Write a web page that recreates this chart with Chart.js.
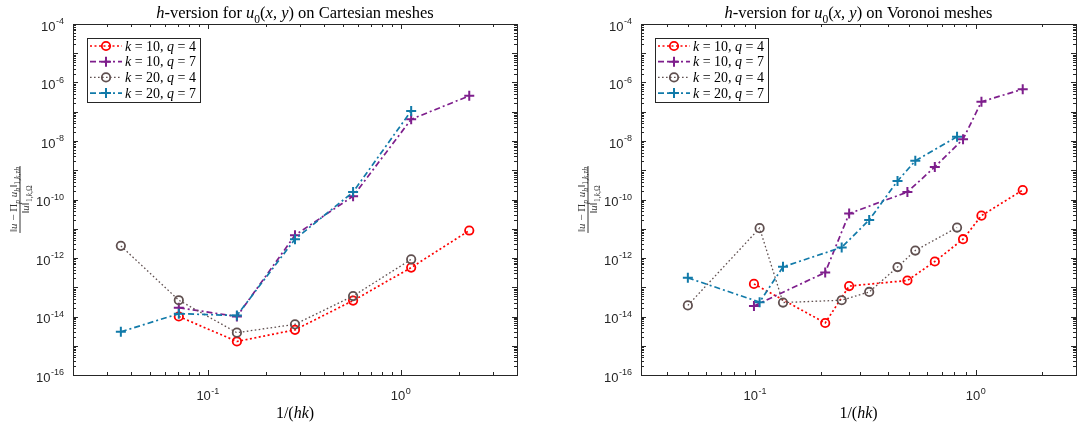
<!DOCTYPE html>
<html>
<head>
<meta charset="utf-8">
<script src="https://cdn.jsdelivr.net/npm/chart.js@4.4.1/dist/chart.umd.min.js"></script>
<style>
  html, body { margin: 0; padding: 0; background: #fff; }
  #wrap { position: relative; width: 1083px; height: 426px; overflow: hidden; }
  .box { position: absolute; top: 0; height: 426px; }
  #leftBox { left: 0; width: 540px; }
  #rightBox { left: 540px; width: 543px; }
</style>
</head>
<body>
<div id="wrap">
  <div class="box" id="leftBox"><canvas id="cart" width="540" height="426"></canvas></div>
  <div class="box" id="rightBox"><canvas id="voro" width="543" height="426"></canvas></div>
</div>
<script>
// ---- data ----
const seriesLabels = ['k = 10, q = 4', 'k = 10, q = 7', 'k = 20, q = 4', 'k = 20, q = 7'];

// Cartesian meshes, x = 1/(hk)
const cartXk10 = [0.0707, 0.1414, 0.2828, 0.5657, 1.1314, 2.2627];
const cartXk20 = [0.0354, 0.0707, 0.1414, 0.2828, 0.5657, 1.1314];
const cartK10q4 = [1.0e-14, 1.4e-15, 3.5e-15, 3.5e-14, 4.7e-13, 8.7e-12];
const cartK10q7 = [2.0e-14, 1.0e-14, 6.0e-12, 1.3e-10, 5.5e-8, 3.5e-7];
const cartK20q4 = [2.6e-12, 3.6e-14, 2.8e-15, 5.4e-15, 5.0e-14, 9.0e-13];
const cartK20q7 = [3.0e-15, 1.25e-14, 1.08e-14, 4.4e-12, 1.8e-10, 1.07e-7];

// Voronoi meshes
const voroXk10 = [0.099, 0.208, 0.267, 0.49, 0.652, 0.875, 1.06, 1.63];
const voroXk20 = [0.0497, 0.105, 0.134, 0.247, 0.329, 0.442, 0.532, 0.822];
const voroK10q4 = [1.3e-13, 6.0e-15, 1.1e-13, 1.7e-13, 7.6e-13, 4.4e-12, 2.8e-11, 2.1e-10];
const voroK10q7 = [2.3e-14, 3.2e-13, 3.3e-11, 1.8e-10, 1.3e-9, 1.15e-8, 2.2e-7, 5.9e-7];
const voroK20q4 = [2.4e-14, 1.05e-11, 3.0e-14, 3.6e-14, 6.9e-14, 4.9e-13, 1.8e-12, 1.1e-11];
const voroK20q7 = [2.1e-13, 3.1e-14, 5.0e-13, 2.3e-12, 2.0e-11, 4.3e-10, 2.1e-9, 1.4e-8];

// axis ticks (exponents of 10)
const yTickExps = [-16, -14, -12, -10, -8, -6, -4];
const xTickExps = [-1, 0];

// ---- styles ----
const styles = [
  { color: '#ff0000', dash: [2, 2.5], lw: 1.7, marker: 'circle' },
  { color: '#7e1e8c', dash: [6, 3, 2, 3], lw: 1.7, marker: 'cross' },
  { color: '#605050', dash: [1.6, 2.4], lw: 1.3, marker: 'circle' },
  { color: '#117aa9', dash: [6, 3, 2, 3], lw: 1.7, marker: 'cross' }
];

const SERIF = '"Liberation Serif", "DejaVu Serif", serif';
const SANS = '"Liberation Sans", Arial, sans-serif';

function segFont(st, size) {
  const s = st.includes('s') ? size * 0.7 : size;
  return (st.includes('i') ? 'italic ' : '') + s.toFixed(1) + 'px ' + SERIF;
}
function richWidth(ctx, segs, size) {
  let w = 0;
  for (const [t, st] of segs) { ctx.font = segFont(st, size); w += ctx.measureText(t).width; }
  return w;
}
function drawRich(ctx, segs, x, y, size, align) {
  const w = richWidth(ctx, segs, size);
  let cx = align === 'center' ? x - w / 2 : align === 'right' ? x - w : x;
  ctx.textAlign = 'left';
  ctx.textBaseline = 'alphabetic';
  for (const [t, st] of segs) {
    ctx.font = segFont(st, size);
    const dy = st.includes('s') ? size * 0.3 : 0;
    ctx.fillText(t, cx, y + dy);
    cx += ctx.measureText(t).width;
  }
}
// italic for single math letters
function mathSegs(str) {
  return str.split(/([a-z])/).filter(t => t.length).map(t => [t, /^[a-z]$/.test(t) ? 'i' : '']);
}
function drawPow(ctx, exp, x, y, align) {
  ctx.textBaseline = 'alphabetic';
  ctx.textAlign = 'left';
  ctx.font = '13px ' + SANS;
  const bw = ctx.measureText('10').width;
  ctx.font = '9px ' + SANS;
  const ew = ctx.measureText(String(exp)).width;
  const w = bw + ew + 0.5;
  let x0 = align === 'right' ? x - w : x - w / 2;
  ctx.font = '13px ' + SANS;
  ctx.fillText('10', x0, y);
  ctx.font = '9px ' + SANS;
  ctx.fillText(String(exp), x0 + bw + 0.5, y - 6.5);
}

function drawMarker(ctx, kind, x, y, color) {
  ctx.save();
  ctx.setLineDash([]);
  ctx.strokeStyle = color;
  if (kind === 'circle') {
    ctx.lineWidth = 1.8;
    ctx.beginPath(); ctx.arc(x, y, 4.2, 0, Math.PI * 2); ctx.stroke();
  } else {
    ctx.lineWidth = 2;
    ctx.beginPath();
    ctx.moveTo(x - 5, y); ctx.lineTo(x + 5, y);
    ctx.moveTo(x, y - 5); ctx.lineTo(x, y + 5);
    ctx.stroke();
  }
  ctx.restore();
}

function matlabPlugin(titleSegs) {
  return {
    id: 'matlabAxes',
    afterDraw(chart) {
      const ctx = chart.ctx;
      const a = chart.chartArea;
      const xs = chart.scales.x, ys = chart.scales.y;
      ctx.save();
      ctx.strokeStyle = '#262626';
      ctx.fillStyle = '#262626';
      ctx.lineWidth = 1;
      ctx.setLineDash([]);
      // box
      ctx.strokeRect(Math.round(a.left) + 0.5, Math.round(a.top) + 0.5,
        Math.round(a.right - a.left), Math.round(a.bottom - a.top));
      // y ticks (inward, left & right)
      ctx.beginPath();
      for (let e = -16; e <= -4; e++) {
        for (let m = 1; m <= 9; m++) {
          const v = m * Math.pow(10, e);
          if (v > ys.max * 1.0001) break;
          const py = Math.round(ys.getPixelForValue(v)) + 0.5;
          const len = m === 1 ? 5 : 3;
          ctx.moveTo(a.left, py); ctx.lineTo(a.left + len, py);
          ctx.moveTo(a.right, py); ctx.lineTo(a.right - len, py);
        }
      }
      // x ticks (inward, bottom & top)
      for (let e = -2; e <= 0; e++) {
        for (let m = 1; m <= 9; m++) {
          const v = m * Math.pow(10, e);
          if (v < xs.min || v > xs.max) continue;
          const px = Math.round(xs.getPixelForValue(v)) + 0.5;
          const len = m === 1 ? 5 : 3;
          ctx.moveTo(px, a.bottom); ctx.lineTo(px, a.bottom - len);
          ctx.moveTo(px, a.top); ctx.lineTo(px, a.top + len);
        }
      }
      ctx.stroke();
      // tick labels
      for (const e of yTickExps) {
        const py = ys.getPixelForValue(Math.pow(10, e));
        drawPow(ctx, e, a.left - 9, py + 6.5, 'right');
      }
      for (const e of xTickExps) {
        const px = xs.getPixelForValue(Math.pow(10, e));
        drawPow(ctx, e, px, a.bottom + 25, 'center');
      }
      // titles
      ctx.fillStyle = '#000';
      const cx = (a.left + a.right) / 2;
      drawRich(ctx, titleSegs, cx, 18, 16.5, 'center');
      drawRich(ctx, [['1/(', ''], ['hk', 'i'], [')', '']], cx, 418, 16, 'center');
      // y label: fraction, rotated
      const num = [['\u2016', ''], ['u', 'i'], [' \u2212 \u03A0', ''], ['p', 'si'], [' ', ''], ['u', 'i'],
        ['h', 'si'], ['\u2016', ''], ['1,', 's'], ['k', 'si'], [',\u03C4', 'si'], ['h', 'si']];
      const den = [['\u2016', ''], ['u', 'i'], ['\u2016', ''], ['1,', 's'], ['k', 'si'], [',\u03A9', 's']];
      ctx.save();
      ctx.translate(a.left - 53, (a.top + a.bottom) / 2);
      ctx.rotate(-Math.PI / 2);
      ctx.fillStyle = '#333';
      drawRich(ctx, num, 0, -3.5, 11, 'center');
      drawRich(ctx, den, 0, 9, 11, 'center');
      const bw = Math.max(richWidth(ctx, num, 11), richWidth(ctx, den, 11)) + 2;
      ctx.strokeStyle = '#000';
      ctx.lineWidth = 0.8;
      ctx.beginPath(); ctx.moveTo(-bw / 2, 0); ctx.lineTo(bw / 2, 0); ctx.stroke();
      ctx.restore();
      // legend
      const lx = a.left + 14, ly = a.top + 14, lw = 113, lh = 64;
      ctx.fillStyle = '#fff';
      ctx.fillRect(lx, ly, lw, lh);
      ctx.strokeStyle = '#262626';
      ctx.lineWidth = 1;
      ctx.strokeRect(Math.round(lx) + 0.5, Math.round(ly) + 0.5, lw, lh);
      chart.data.datasets.forEach((ds, i) => {
        const st = styles[i];
        const ry = ly + 8 + i * 15.7;
        ctx.save();
        ctx.strokeStyle = st.color;
        ctx.lineWidth = st.lw;
        ctx.setLineDash(st.dash);
        ctx.beginPath(); ctx.moveTo(lx + 3, ry); ctx.lineTo(lx + 35, ry); ctx.stroke();
        ctx.restore();
        drawMarker(ctx, st.marker, lx + 19, ry, st.color);
        ctx.fillStyle = '#000';
        drawRich(ctx, mathSegs(ds.label), lx + 38, ry + 4.5, 14, 'left');
      });
      ctx.restore();
    }
  };
}

function makeChart(id, xArrs, yArrs, xMin, xMax, yAxisW, padRight, titleSegs) {
  const datasets = yArrs.map((ys, i) => ({
    label: seriesLabels[i],
    data: xArrs[i].map((x, j) => ({ x: x, y: ys[j] })),
    borderColor: styles[i].color,
    backgroundColor: 'transparent',
    borderWidth: styles[i].lw,
    borderDash: styles[i].dash,
    pointStyle: styles[i].marker === 'circle' ? 'circle' : 'cross',
    pointRadius: styles[i].marker === 'circle' ? 4.2 : 5,
    pointBorderWidth: styles[i].marker === 'circle' ? 1.8 : 2,
    pointBorderColor: styles[i].color,
    pointBackgroundColor: 'transparent',
    tension: 0,
    fill: false,
    order: 10 - i
  }));
  return new Chart(document.getElementById(id), {
    type: 'line',
    data: { datasets: datasets },
    options: {
      responsive: false,
      animation: false,
      events: [],
      layout: { padding: { top: 24, right: padRight, left: 0, bottom: 0 } },
      plugins: { legend: { display: false }, tooltip: { enabled: false }, title: { display: false } },
      scales: {
        x: {
          type: 'logarithmic', min: xMin, max: xMax,
          ticks: { display: false }, grid: { display: false }, border: { display: false },
          afterFit: s => { s.height = 51; }
        },
        y: {
          type: 'logarithmic', min: 1e-16, max: 1e-4,
          ticks: { display: false }, grid: { display: false }, border: { display: false },
          afterFit: s => { s.width = yAxisW; }
        }
      }
    },
    plugins: [matlabPlugin(titleSegs)]
  });
}

makeChart('cart',
  [cartXk10, cartXk10, cartXk20, cartXk20],
  [cartK10q4, cartK10q7, cartK20q4, cartK20q7],
  0.02, 4, 73, 23,
  [['h', 'i'], ['-version for ', ''], ['u', 'i'], ['0', 's'], ['(', ''], ['x', 'i'], [', ', ''], ['y', 'i'], [') on Cartesian meshes', '']]);

makeChart('voro',
  [voroXk10, voroXk10, voroXk20, voroXk20],
  [voroK10q4, voroK10q7, voroK20q4, voroK20q7],
  0.0305, 2.84, 101, 2,
  [['h', 'i'], ['-version for ', ''], ['u', 'i'], ['0', 's'], ['(', ''], ['x', 'i'], [', ', ''], ['y', 'i'], [') on Voronoi meshes', '']]);
</script>
</body>
</html>
